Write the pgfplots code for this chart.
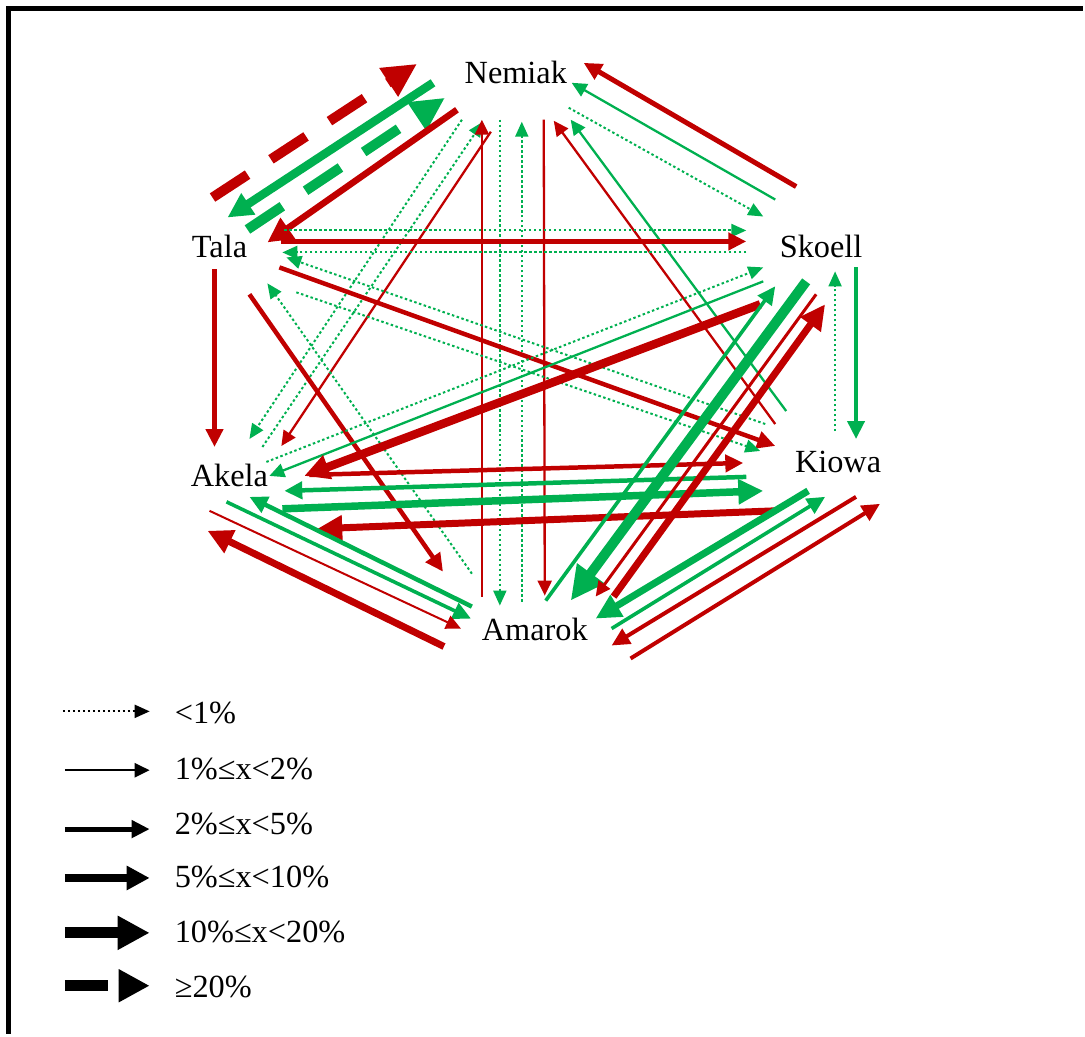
\documentclass[border=0pt]{standalone}
\usepackage{fontspec}
\setmainfont{Liberation Serif}
\usepackage{pgfplots}
\pgfplotsset{compat=1.18}
\usetikzlibrary{arrows.meta}
\definecolor{myred}{RGB}{192,0,0}
\definecolor{mygreen}{RGB}{0,176,80}
\tikzset{
 p0/.style={line width=2bp, dash pattern=on 2.5bp off 2.5bp, -{Triangle[length=15bp,width=13bp]}},
 p1/.style={line width=2.3bp, -{Triangle[length=15bp,width=14bp]}},
 p2/.style={line width=4.5bp, -{Triangle[length=18bp,width=17bp]}},
 p3/.style={line width=7.5bp, -{Triangle[length=25bp,width=24bp]}},
 p4/.style={line width=10bp, -{Triangle[length=34bp,width=32bp]}},
 p5/.style={line width=10bp, dash pattern=on 42bp off 28bp, -{Triangle[length=34bp,width=32bp]}},
 R/.style={color=myred},
 G/.style={color=mygreen},
 lab/.style={font=\fontsize{32.5}{38}\selectfont, text=black},
}
\begin{document}
\begin{tikzpicture}
\begin{axis}[scale only axis, width=1085bp, height=1036bp,
  xmin=0, xmax=1085, ymin=0, ymax=1036, y dir=reverse,
  hide axis, clip=false]
\path[draw=none] (axis cs:0,0) rectangle (axis cs:1085,1036);
\draw[line width=5bp, line join=miter] (axis cs:9,1036) -- (axis cs:9,8.5) -- (axis cs:1085,8.5);

% Tala <-> Nemiak
\addplot[R,p5] coordinates {(213,198) (418,64)};
\addplot[G,p3,line width=8.5bp] coordinates {(434,83) (228,218)};
\addplot[G,p5] coordinates {(248,230) (446,98)};
\addplot[R,p3,line width=6.5bp] coordinates {(458,110) (268,243)};
% Nemiak <-> Akela
\addplot[G,p0] coordinates {(463,120) (250,440)};
\addplot[G,p0] coordinates {(263,448) (484,122)};
\addplot[R,p1] coordinates {(492,132) (282,447)};
% Nemiak <-> Amarok
\addplot[R,p1] coordinates {(483,598) (483,120)};
\addplot[G,p0] coordinates {(501,120) (501,607)};
\addplot[G,p0] coordinates {(523,603) (523,122)};
\addplot[R,p1] coordinates {(545,120) (546,597)};
% Kiowa -> Nemiak
\addplot[R,p1] coordinates {(777,425) (555,121)};
\addplot[G,p1] coordinates {(788,412) (572,120)};
% Nemiak <-> Skoell
\addplot[G,p0] coordinates {(570,108) (765,217)};
\addplot[G,p1] coordinates {(777,200) (573,83)};
\addplot[R,p2,line width=5bp] coordinates {(798,187) (585,63)};
% Tala <-> Skoell
\addplot[G,p0] coordinates {(285,231) (748,231)};
\addplot[R,p2] coordinates {(282,242) (748,242)};
\addplot[G,p0] coordinates {(748,253) (283,253)};
% Tala <-> Kiowa
\addplot[G,p0] coordinates {(767,425) (287,258)};
\addplot[R,p2] coordinates {(280,268) (777,447)};
\addplot[G,p0] coordinates {(297,293) (762,452)};
% Tala <-> Amarok
\addplot[G,p0] coordinates {(473,575) (268,284)};
\addplot[R,p2] coordinates {(250,295) (444,573)};
% Tala -> Akela
\addplot[R,p2] coordinates {(215,270) (215,448)};
% Akela <-> Skoell
\addplot[G,p0] coordinates {(267,463) (765,268)};
\addplot[G,p1] coordinates {(765,282) (270,477)};
\addplot[R,p3,line width=8.5bp] coordinates {(762,305) (305,477)};
% Akela <-> Kiowa
\addplot[R,p2] coordinates {(310,476) (745,464)};
\addplot[G,p2] coordinates {(748,478) (285,492)};
\addplot[G,p3] coordinates {(283,510) (765,492)};
\addplot[R,p3,line width=7bp] coordinates {(777,512) (318,530)};
% Akela <-> Amarok
\addplot[G,p2] coordinates {(473,608) (250,498)};
\addplot[G,p2,line width=3.6bp] coordinates {(227,503) (472,620)};
\addplot[R,p1,line width=2bp] coordinates {(210,512) (462,630)};
\addplot[R,p3,line width=7bp] coordinates {(445,648) (208,532)};
% Skoell <-> Amarok
\addplot[G,p4] coordinates {(808,282) (572,602)};
\addplot[G,p2,line width=3.6bp] coordinates {(547,602) (777,287)};
\addplot[R,p1,line width=3bp] coordinates {(818,295) (597,598)};
\addplot[R,p3,line width=7bp] coordinates {(615,598) (827,305)};
% Skoell <-> Kiowa
\addplot[G,p0] coordinates {(837,432) (837,272)};
\addplot[G,p2,line width=4bp] coordinates {(858,268) (858,440)};
% Kiowa <-> Amarok
\addplot[G,p3,line width=7bp] coordinates {(810,492) (597,620)};
\addplot[G,p2,line width=3.6bp] coordinates {(613,630) (827,498)};
\addplot[R,p2,line width=4bp] coordinates {(858,498) (613,647)};
\addplot[R,p2,line width=4bp] coordinates {(632,660) (882,505)};

% node labels
\node[lab,anchor=base] at (axis cs:517,84) {Nemiak};
\node[lab,anchor=base] at (axis cs:220,258) {Tala};
\node[lab,anchor=base] at (axis cs:823,258) {Skoell};
\node[lab,anchor=base] at (axis cs:230,488) {Akela};
\node[lab,anchor=base] at (axis cs:840,474) {Kiowa};
\node[lab,anchor=base] at (axis cs:536,642) {Amarok};

% legend
\addplot[black,p0] coordinates {(63,713) (150,713)};
\addplot[black,p1] coordinates {(65,772) (150,772)};
\addplot[black,p2,line width=5bp] coordinates {(65,831) (150,831)};
\addplot[black,p3,line width=8.5bp,-{Triangle[length=23bp,width=23bp]}] coordinates {(65,880) (150,880)};
\addplot[black,p4,line width=11bp,-{Triangle[length=32bp,width=32bp]}] coordinates {(65,935) (150,935)};
\addplot[black,p5,line width=10.5bp,dash pattern=on 43bp off 11bp,-{Triangle[length=31bp,width=31bp]}] coordinates {(65,988) (150,988)};
\node[lab,anchor=base west, inner sep=0pt] at (axis cs:175,725) {<1\%};
\node[lab,anchor=base west, inner sep=0pt] at (axis cs:175,781) {1\%≤x<2\%};
\node[lab,anchor=base west, inner sep=0pt] at (axis cs:175,836) {2\%≤x<5\%};
\node[lab,anchor=base west, inner sep=0pt] at (axis cs:175,890) {5\%≤x<10\%};
\node[lab,anchor=base west, inner sep=0pt] at (axis cs:175,945) {10\%≤x<20\%};
\node[lab,anchor=base west, inner sep=0pt] at (axis cs:175,1000) {≥20\%};
\end{axis}
\end{tikzpicture}
\end{document}
